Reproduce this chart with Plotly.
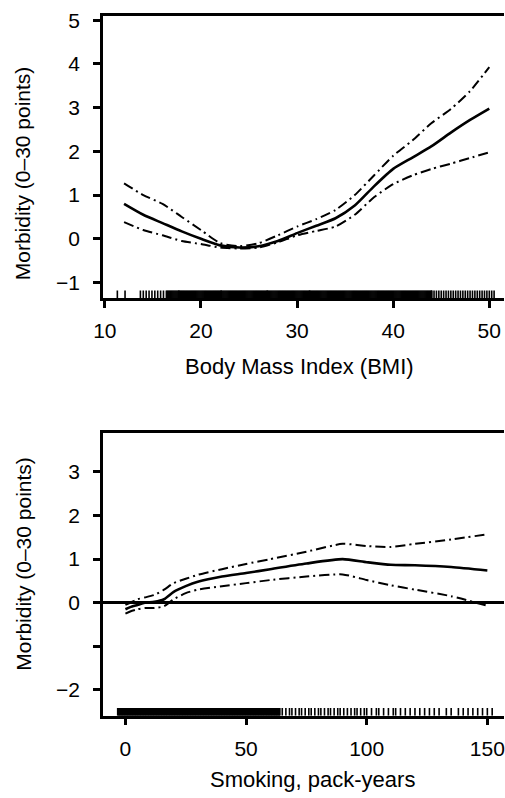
import numpy as np
import plotly.graph_objects as go

# ---------------- data ----------------
bmi = [12, 14, 16, 18, 20, 22, 24, 26, 28, 30, 32, 34, 36, 38, 40, 42, 44, 46, 48, 50]
bmi_fit = [0.80, 0.55, 0.36, 0.17, 0.00, -0.15, -0.20, -0.17, -0.05, 0.13, 0.30, 0.47,
           0.76, 1.20, 1.60, 1.86, 2.12, 2.43, 2.72, 2.98]
bmi_upper = [1.27, 1.00, 0.80, 0.50, 0.20, -0.10, -0.17, -0.10, 0.08, 0.28, 0.45, 0.66,
             1.00, 1.45, 1.90, 2.25, 2.65, 2.97, 3.38, 3.93]
bmi_lower = [0.38, 0.20, 0.08, -0.05, -0.12, -0.20, -0.22, -0.20, -0.08, 0.08, 0.18, 0.28,
             0.55, 0.95, 1.25, 1.45, 1.60, 1.72, 1.85, 1.98]

pack = [0, 2, 5, 8, 12, 16, 20, 25, 30, 40, 50, 60, 75, 90, 100, 110, 120, 135, 150]
pack_fit = [-0.15, -0.10, -0.05, 0.00, 0.02, 0.08, 0.25, 0.38, 0.48, 0.60, 0.68, 0.77,
            0.90, 1.00, 0.93, 0.87, 0.86, 0.82, 0.74]
pack_upper = [-0.05, 0.00, 0.08, 0.12, 0.18, 0.30, 0.45, 0.55, 0.64, 0.77, 0.89, 1.00,
              1.17, 1.35, 1.30, 1.28, 1.35, 1.45, 1.57]
pack_lower = [-0.25, -0.20, -0.15, -0.12, -0.12, -0.08, 0.08, 0.22, 0.30, 0.38, 0.45, 0.52,
              0.60, 0.65, 0.52, 0.40, 0.30, 0.15, -0.07]

# rug (observed values): isolated values plus dense spans (start, end, spacing)
bmi_rug_single = [11.3, 12.1, 17.7, 22.1, 26.9, 31.3]
bmi_rug_spans = [(13.7, 16.5, 0.3), (16.5, 44.0, 0.1), (44.0, 50.6, 0.25)]
pack_rug_spans = [(-3.2, 64.0, 0.3)]
pack_rug_single = [65, 66.5, 68, 69, 70.5, 72, 73, 74.5, 76, 77, 78.5, 80, 81, 82.5, 84, 85,
                   86.5, 88, 89, 90.5, 92, 93.5, 95, 96, 97.5, 99, 100, 102, 104, 105, 107,
                   109, 111, 112, 114, 116, 118, 120, 122, 124, 126, 128, 130, 133, 135, 138,
                   140, 142, 144, 146, 148, 150, 152]

bmi_ticks = [10, 20, 30, 40, 50]
bmi_yticks = [-1, 0, 1, 2, 3, 4, 5]
bmi_yticktext = ["\u22121", "0", "1", "2", "3", "4", "5"]
pack_ticks = [0, 50, 100, 150]
pack_yticks = [-2, -1, 0, 1, 2, 3]
pack_yticktext = ["\u22122", "", "0", "1", "2", "3"]

y_title = "Morbidity (0\u201330 points)"
x_title_top = "Body Mass Index (BMI)"
x_title_bot = "Smoking, pack-years"

# ---------------- figure ----------------
W, H = 505, 798
FONT = "Liberation Sans, Arial, Helvetica, sans-serif"

top_xr = [9.80, 51.53]
top_yr = [-1.364, 5.10]
bot_xr = [-9.32, 156.9]
bot_yr = [-2.59, 3.886]
RUG_H = 0.18


def expand(singles, spans):
    vals = list(singles)
    for a, b, s in spans:
        vals += list(np.arange(a, b + 1e-9, s))
    return sorted(vals)


def rug_xy(vals, y0, h):
    xs, ys = [], []
    for v in vals:
        xs += [v, v, None]
        ys += [y0, y0 + h, None]
    return xs, ys


fig = go.Figure()

DASH = "10px,4px,2px,4px"

def add_curves(x, fit, up, lo, xa, ya):
    for ci in (up, lo):
        fig.add_trace(go.Scatter(x=x, y=ci, mode="lines", xaxis=xa, yaxis=ya,
                                 line=dict(color="black", width=2, dash=DASH, shape="spline", smoothing=0.6),
                                 showlegend=False, hoverinfo="skip"))
    fig.add_trace(go.Scatter(x=x, y=fit, mode="lines", xaxis=xa, yaxis=ya,
                             line=dict(color="black", width=2.6, shape="spline", smoothing=0.6),
                             showlegend=False, hoverinfo="skip"))

add_curves(bmi, bmi_fit, bmi_upper, bmi_lower, "x", "y")
add_curves(pack, pack_fit, pack_upper, pack_lower, "x2", "y2")

rx, ry = rug_xy(expand(bmi_rug_single, bmi_rug_spans), top_yr[0], RUG_H)
fig.add_trace(go.Scatter(x=rx, y=ry, mode="lines", xaxis="x", yaxis="y",
                         line=dict(color="black", width=1.6), showlegend=False, hoverinfo="skip"))
rx, ry = rug_xy(expand(pack_rug_single, pack_rug_spans), bot_yr[0], RUG_H)
fig.add_trace(go.Scatter(x=rx, y=ry, mode="lines", xaxis="x2", yaxis="y2",
                         line=dict(color="black", width=1.6), showlegend=False, hoverinfo="skip"))

tickfont = dict(family=FONT, size=21, color="black")
common_axis = dict(showline=True, linewidth=2.5, linecolor="black", ticks="outside",
                   ticklen=7, tickwidth=2.5, tickcolor="black", tickfont=tickfont,
                   showgrid=False, zeroline=False, ticklabeloverflow="allow")

dom_x = [95 / W, 1.0]
fig.update_layout(
    width=W, height=H,
    margin=dict(l=0, r=0, t=0, b=0),
    paper_bgcolor="white", plot_bgcolor="white",
    xaxis=dict(domain=dom_x, range=top_xr, anchor="y", tickvals=bmi_ticks, mirror=True,
               ticklabelstandoff=5, **common_axis),
    yaxis=dict(domain=[1 - 294 / H, 1 - 9 / H], range=top_yr, anchor="x",
               tickvals=bmi_yticks, ticktext=bmi_yticktext, ticklabelstandoff=9, **common_axis),
    xaxis2=dict(domain=dom_x, range=bot_xr, anchor="y2", tickvals=pack_ticks, mirror=True,
                ticklabelstandoff=5, **common_axis),
    yaxis2=dict(domain=[1 - 715 / H, 1 - 430 / H], range=bot_yr, anchor="x2",
                tickvals=pack_yticks, ticktext=pack_yticktext, ticklabelstandoff=9,
                **{**common_axis, "zeroline": True}, zerolinecolor="black", zerolinewidth=2.5),
)

xt_font = dict(family=FONT, size=22, color="black")
yt_font = dict(family=FONT, size=21, color="black")
fig.add_annotation(text=x_title_top, x=296 / W, y=1 - 363 / H, xref="paper", yref="paper",
                   showarrow=False, font=xt_font, xanchor="center", yanchor="middle")
fig.add_annotation(text=x_title_bot, x=309 / W, y=1 - 779 / H, xref="paper", yref="paper",
                   showarrow=False, font=xt_font, xanchor="center", yanchor="middle")
fig.add_annotation(text=y_title, x=13 / W, y=1 - 168 / H, xref="paper", yref="paper",
                   showarrow=False, font=yt_font, textangle=-90, xanchor="center", yanchor="middle")
fig.add_annotation(text=y_title, x=13 / W, y=1 - 562 / H, xref="paper", yref="paper",
                   showarrow=False, font=yt_font, textangle=-90, xanchor="center", yanchor="middle")

fig.write_html(
    "out.html",
    config={"displayModeBar": False},
    post_script="document.body.style.margin='0';document.body.style.overflow='hidden';"
                "document.documentElement.style.overflow='hidden';",
)
